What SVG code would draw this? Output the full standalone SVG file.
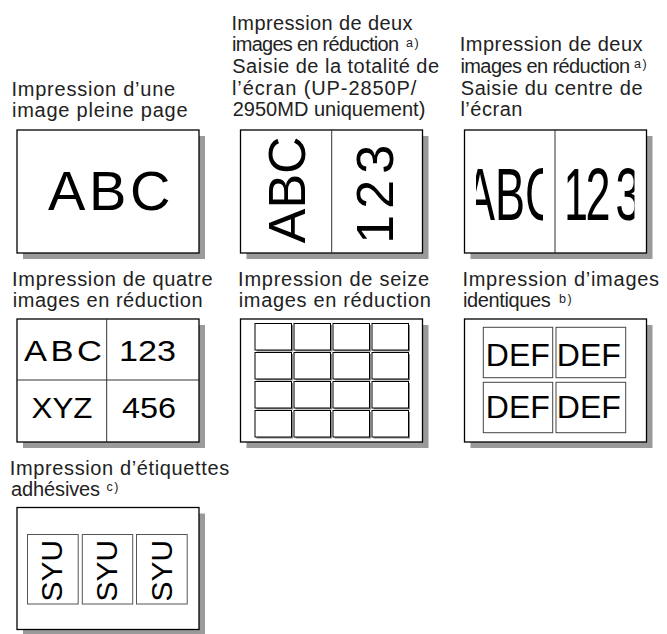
<svg xmlns="http://www.w3.org/2000/svg" width="667" height="634" viewBox="0 0 667 634">
<style>
.t{font-family:"Liberation Sans",Arial,Helvetica,sans-serif;font-size:20px;fill:#222}
.sup{font-family:"Liberation Sans",Arial,Helvetica,sans-serif;font-size:12.5px;fill:#222;letter-spacing:1.5px}
.sh{fill:#9a9a9a}
.bx{fill:#fff;stroke:#000;stroke-width:1.3}
.dv{stroke:#333;stroke-width:1;fill:none}
.big{font-family:"Liberation Sans",Arial,Helvetica,sans-serif;fill:#000}
.c5{fill:#fff;stroke:#000;stroke-width:1}
.c5s{fill:#8a8a8a}
.c6{fill:#fff;stroke:#444;stroke-width:1}
.c7{fill:#fff;stroke:#555;stroke-width:1}
</style>
<defs>
<clipPath id="clipL"><rect x="476" y="131" width="67" height="121"/></clipPath>
<clipPath id="clipR"><rect x="567.5" y="131" width="67" height="121"/></clipPath>
</defs>
<rect width="667" height="634" fill="#fff"/>
<g id="connectors"/>

<g id="p1">
<text class="t" x="11.5" y="95.6" textLength="163.7" lengthAdjust="spacing">Impression d’une</text>
<text class="t" x="12" y="117.2" textLength="175.5" lengthAdjust="spacing">image pleine page</text>
<rect class="sh" x="23" y="136" width="182" height="123"/>
<rect class="bx" x="17" y="130" width="182" height="123"/>
<text class="big" x="48" y="210" font-size="56" letter-spacing="3.6">ABC</text>
</g>

<g id="p2">
<text class="t" x="231.4" y="29.8" textLength="181" lengthAdjust="spacing">Impression de deux</text>
<text class="t" x="232" y="51.4" textLength="167" lengthAdjust="spacing">images en réduction</text>
<text class="sup" x="406" y="46.6">a)</text>
<text class="t" x="232.3" y="73" textLength="206.8" lengthAdjust="spacing">Saisie de la totalité de</text>
<text class="t" x="232" y="94.6" textLength="184.3" lengthAdjust="spacing">l’écran (UP-2850P/</text>
<text class="t" x="232.7" y="116.3" textLength="192.6" lengthAdjust="spacing">2950MD uniquement)</text>
<rect class="sh" x="246.5" y="136" width="182" height="123"/>
<rect class="bx" x="240.5" y="130" width="182" height="123"/>
<line class="dv" x1="331.7" y1="130" x2="331.7" y2="253"/>
<text class="big" font-size="52" transform="translate(305,243.3) rotate(-90)">ABC</text>
<text class="big" font-size="52" letter-spacing="6" transform="translate(393,243.7) rotate(-90)">123</text>
</g>

<g id="p3">
<text class="t" x="459.8" y="51.4" textLength="182.7" lengthAdjust="spacing">Impression de deux</text>
<text class="t" x="460.4" y="73" textLength="169.7" lengthAdjust="spacing">images en réduction</text>
<text class="sup" x="634" y="68.2">a)</text>
<text class="t" x="460.7" y="94.6" textLength="181.8" lengthAdjust="spacing">Saisie du centre de</text>
<text class="t" x="460.4" y="116.3" textLength="62" lengthAdjust="spacing">l’écran</text>
<rect class="sh" x="470.5" y="136" width="182" height="123"/>
<rect class="bx" x="464.5" y="130" width="182" height="123"/>
<line class="dv" x1="555" y1="130" x2="555" y2="253"/>
<g clip-path="url(#clipL)"><text class="big" font-size="75" transform="matrix(0.6,0,0,1,465,220)">ABC</text></g>
<g clip-path="url(#clipR)"><text class="big" font-size="75" transform="matrix(0.6,0,0,1,0,220)" x="938.3 976 1026" y="0">123</text></g>
</g>

<g id="p4">
<text class="t" x="12.1" y="285.7" textLength="200.4" lengthAdjust="spacing">Impression de quatre</text>
<text class="t" x="12.7" y="307.4" textLength="189.8" lengthAdjust="spacing">images en réduction</text>
<rect class="sh" x="23" y="325" width="182" height="123"/>
<rect class="bx" x="17" y="319" width="182" height="123"/>
<line class="dv" x1="106.7" y1="319" x2="106.7" y2="442"/>
<line class="dv" x1="17" y1="380" x2="199" y2="380"/>
<text class="big" font-size="30" letter-spacing="3" transform="matrix(1.15,0,0,1,24,360.7)">ABC</text>
<text class="big" font-size="30" x="119" y="360.7" textLength="57" lengthAdjust="spacingAndGlyphs">123</text>
<text class="big" font-size="30" x="31.5" y="418.3" textLength="61" lengthAdjust="spacingAndGlyphs">XYZ</text>
<text class="big" font-size="30" x="122" y="418.3" textLength="54" lengthAdjust="spacingAndGlyphs">456</text>
</g>

<g id="p5">
<text class="t" x="238.1" y="285.7" textLength="191" lengthAdjust="spacing">Impression de seize</text>
<text class="t" x="238.7" y="307.4" textLength="192.1" lengthAdjust="spacing">images en réduction</text>
<rect class="sh" x="246.5" y="325" width="182" height="123"/>
<rect class="bx" x="240.5" y="319" width="182" height="123"/>
<g class="c5s">
<rect x="256.5" y="325" width="36.5" height="26.5"/><rect x="295.5" y="325" width="36.5" height="26.5"/><rect x="334.5" y="325" width="36.5" height="26.5"/><rect x="373.5" y="325" width="36.5" height="26.5"/>
<rect x="256.5" y="354" width="36.5" height="26.5"/><rect x="295.5" y="354" width="36.5" height="26.5"/><rect x="334.5" y="354" width="36.5" height="26.5"/><rect x="373.5" y="354" width="36.5" height="26.5"/>
<rect x="256.5" y="383" width="36.5" height="26.5"/><rect x="295.5" y="383" width="36.5" height="26.5"/><rect x="334.5" y="383" width="36.5" height="26.5"/><rect x="373.5" y="383" width="36.5" height="26.5"/>
<rect x="256.5" y="412" width="36.5" height="26.5"/><rect x="295.5" y="412" width="36.5" height="26.5"/><rect x="334.5" y="412" width="36.5" height="26.5"/><rect x="373.5" y="412" width="36.5" height="26.5"/>
</g>
<g class="c5">
<rect x="255" y="323.5" width="36.5" height="26.5"/><rect x="294" y="323.5" width="36.5" height="26.5"/><rect x="333" y="323.5" width="36.5" height="26.5"/><rect x="372" y="323.5" width="36.5" height="26.5"/>
<rect x="255" y="352.5" width="36.5" height="26.5"/><rect x="294" y="352.5" width="36.5" height="26.5"/><rect x="333" y="352.5" width="36.5" height="26.5"/><rect x="372" y="352.5" width="36.5" height="26.5"/>
<rect x="255" y="381.5" width="36.5" height="26.5"/><rect x="294" y="381.5" width="36.5" height="26.5"/><rect x="333" y="381.5" width="36.5" height="26.5"/><rect x="372" y="381.5" width="36.5" height="26.5"/>
<rect x="255" y="410.5" width="36.5" height="26.5"/><rect x="294" y="410.5" width="36.5" height="26.5"/><rect x="333" y="410.5" width="36.5" height="26.5"/><rect x="372" y="410.5" width="36.5" height="26.5"/>
</g>
</g>

<g id="p6">
<text class="t" x="462.4" y="285.7" textLength="196.7" lengthAdjust="spacing">Impression d’images</text>
<text class="t" x="463" y="307.4" textLength="87.8" lengthAdjust="spacing">identiques</text>
<text class="sup" x="559" y="302.6">b)</text>
<rect class="sh" x="470.5" y="325" width="182" height="123"/>
<rect class="bx" x="464.5" y="319" width="182" height="123"/>
<rect class="c6" x="483.3" y="327.3" width="69.4" height="50.4"/>
<rect class="c6" x="556" y="327.3" width="69.7" height="50.4"/>
<rect class="c6" x="483.3" y="382.3" width="69.4" height="50.4"/>
<rect class="c6" x="556" y="382.3" width="69.7" height="50.4"/>
<text class="big" font-size="32" x="485.8" y="366">DEF</text>
<text class="big" font-size="32" x="556.8" y="366">DEF</text>
<text class="big" font-size="32" x="485.8" y="417.7">DEF</text>
<text class="big" font-size="32" x="556.8" y="417.7">DEF</text>
</g>

<g id="p7">
<text class="t" x="9.8" y="474.5" textLength="219.4" lengthAdjust="spacing">Impression d’étiquettes</text>
<text class="t" x="11" y="496.2" textLength="89.1" lengthAdjust="spacing">adhésives</text>
<text class="sup" x="106.5" y="491.4">c)</text>
<rect class="sh" x="23" y="513.5" width="182" height="122"/>
<rect class="bx" x="17" y="507.5" width="182" height="122"/>
<rect class="c7" x="27.5" y="534.5" width="50.7" height="69.5"/>
<rect class="c7" x="82.3" y="534.5" width="50.4" height="69.5"/>
<rect class="c7" x="136.5" y="534.5" width="50.7" height="69.5"/>
<text class="big" font-size="30" text-anchor="middle" transform="translate(61.7,570.7) rotate(-90)">SYU</text>
<text class="big" font-size="30" text-anchor="middle" transform="translate(116.7,570.7) rotate(-90)">SYU</text>
<text class="big" font-size="30" text-anchor="middle" transform="translate(171.7,570.7) rotate(-90)">SYU</text>
</g>
</svg>
